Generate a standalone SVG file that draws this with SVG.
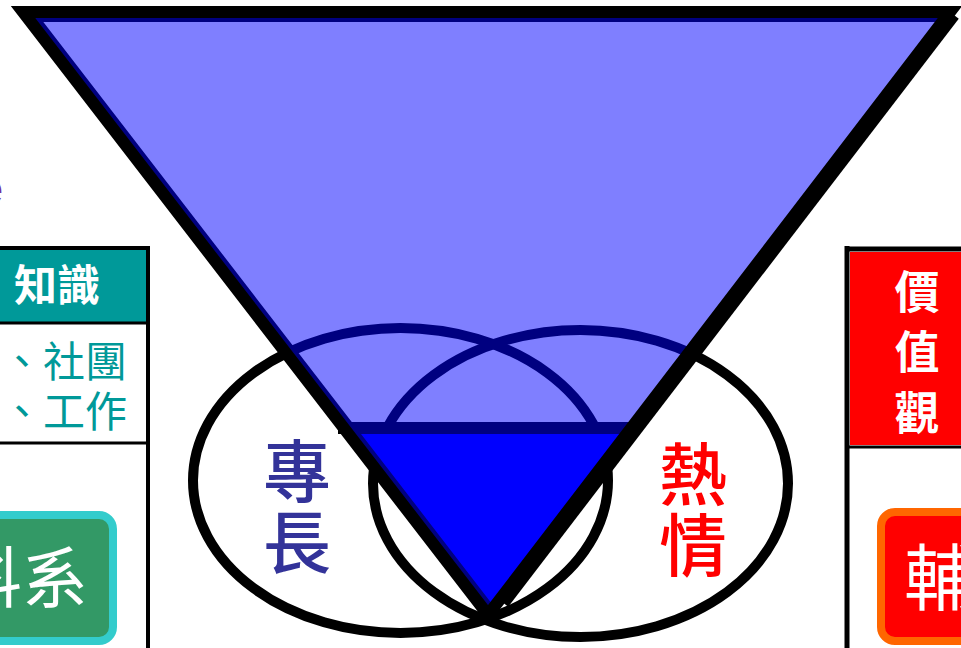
<svg xmlns="http://www.w3.org/2000/svg" width="961" height="648" viewBox="0 0 961 648">
<style>
.cjk{font-family:"Noto Sans CJK TC","Noto Sans CJK SC",sans-serif}
.hdr{font-weight:700;fill:#fff}
.big{font-size:68px;font-weight:500;text-anchor:middle}
.ell{fill:none;stroke:#000;stroke-width:10}
.bd{stroke:#000;fill:none}
</style>
<defs>
<clipPath id="triClip"><polygon points="23,12 950,12 488,615"/></clipPath>
</defs>
<rect width="961" height="648" fill="#fff"/>

<g id="purple-fragment">
<text x="3" y="205" text-anchor="end" font-family="Liberation Sans, sans-serif" font-weight="700" font-size="48" fill="#7030A0">e</text>
</g>

<g id="left-table">
<rect x="0" y="250" width="146" height="72" fill="#009999"/>
<line class="bd" x1="0" y1="248" x2="150" y2="248" stroke-width="4"/>
<line class="bd" x1="148" y1="246" x2="148" y2="648" stroke-width="4"/>
<line class="bd" x1="0" y1="323" x2="148" y2="323" stroke-width="3"/>
<line class="bd" x1="0" y1="443" x2="148" y2="443" stroke-width="3"/>
<text class="cjk hdr" x="14" y="301" font-size="43">知識</text>
<text class="cjk" x="1" y="377" font-size="42" fill="#009999">、社團</text>
<text class="cjk" x="1" y="427" font-size="42" fill="#009999">、工作</text>
</g>

<g id="left-button">
<rect x="-20" y="515" width="133" height="126" rx="14" fill="#339966" stroke="#33CCCC" stroke-width="8"/>
<text class="cjk" x="-44" y="602" font-size="66" fill="#fff">科系</text>
</g>

<g id="right-table">
<rect x="850" y="252" width="111" height="193" fill="#FF0000"/>
<line class="bd" x1="845" y1="249" x2="961" y2="249" stroke-width="5"/>
<line class="bd" x1="847" y1="246" x2="847" y2="648" stroke-width="5"/>
<line class="bd" x1="847" y1="447" x2="961" y2="447" stroke-width="3"/>
<text class="cjk hdr" x="917" y="309" font-size="45" text-anchor="middle">價</text>
<text class="cjk hdr" x="917" y="369" font-size="45" text-anchor="middle">值</text>
<text class="cjk hdr" x="917" y="430" font-size="45" text-anchor="middle">觀</text>
</g>

<g id="right-button">
<rect x="881" y="512" width="120" height="129" rx="14" fill="#FF0000" stroke="#FF6600" stroke-width="8"/>
<text class="cjk" x="904" y="604" font-size="72" fill="#fff">輔</text>
</g>

<g id="venn">
<ellipse id="ellipse-left" class="ell" cx="400.5" cy="480.5" rx="207.5" ry="152.5"/>
<ellipse id="ellipse-right" class="ell" cx="580.5" cy="483.5" rx="207.5" ry="153.5"/>
</g>

<g id="triangle">
<polygon points="343.8,428 631.3,428 488,615" fill="#0000FF"/>
<line x1="338" y1="428" x2="640" y2="428" stroke="#000" stroke-width="12"/>
<polygon points="23,12 950,12 488,615" fill="#0000FF" fill-opacity="0.5"/>
<polyline points="950,12 23,12 488,615" fill="none" stroke="#000080" stroke-width="20" clip-path="url(#triClip)"/>
<polygon points="23,12 950,12 488,615" fill="none" stroke="#000" stroke-width="12" stroke-linejoin="miter" stroke-miterlimit="10"/>
<line x1="954" y1="15" x2="503.5" y2="603" stroke="#000" stroke-width="12"/>
</g>

<g id="label-specialty">
<text class="cjk big" x="297" y="497" fill="#333399">專</text>
<text class="cjk big" x="297" y="568" fill="#333399">長</text>
</g>
<g id="label-passion">
<text class="cjk big" x="693" y="500" fill="#FF0000">熱</text>
<text class="cjk big" x="693" y="571" fill="#FF0000">情</text>
</g>
</svg>
